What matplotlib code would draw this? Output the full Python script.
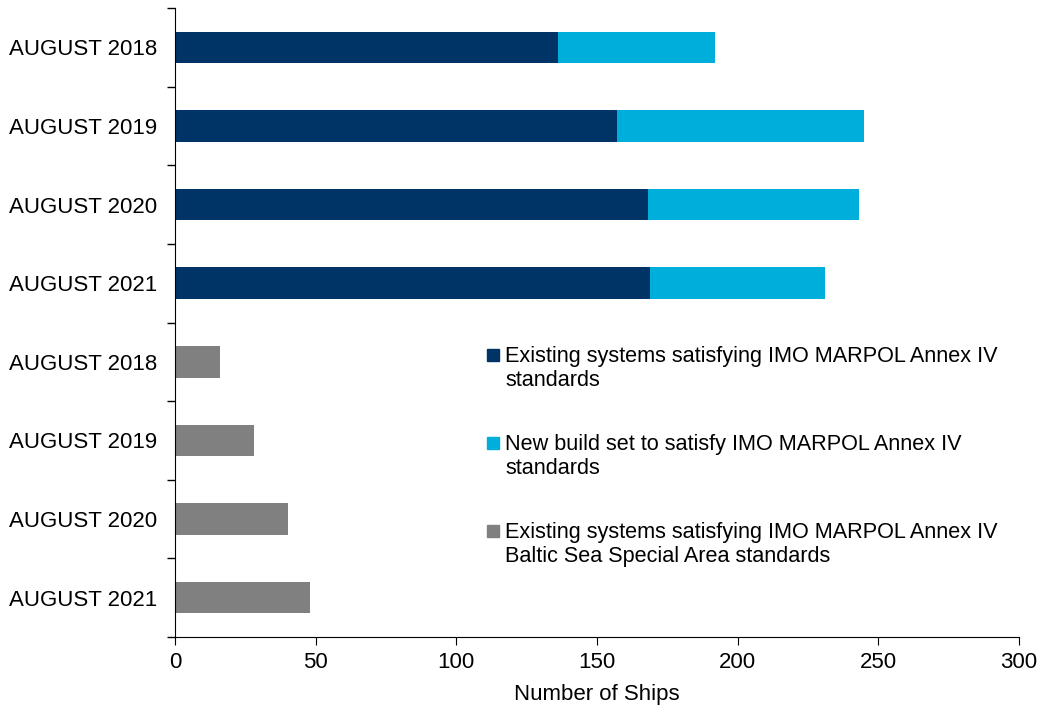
import matplotlib
matplotlib.use("Agg")
import matplotlib.pyplot as plt

plt.rcParams['font.family'] = ['Liberation Sans', 'DejaVu Sans']

# DATA
years = ["AUGUST 2018", "AUGUST 2019", "AUGUST 2020", "AUGUST 2021"]
existing = [136, 157, 168, 169]
new_build = [56, 88, 75, 62]
baltic = [16, 28, 40, 48]

labels = years + years
dark = "#003366"
light = "#00AEDB"
grey = "#808080"

fig = plt.figure(figsize=(10.45, 7.06), dpi=100)
ax = fig.add_axes([0.1675, 0.0977, 0.8075, 0.891])

pos_top = list(range(7, 3, -1))     # 7,6,5,4
pos_bot = list(range(3, -1, -1))    # 3,2,1,0
h = 0.4

ax.barh(pos_top, existing, height=h, color=dark)
ax.barh(pos_top, new_build, left=existing, height=h, color=light)
ax.barh(pos_bot, baltic, height=h, color=grey)

ax.set_ylim(-0.5, 7.5)
ax.set_xlim(0, 300)
ax.set_yticks(pos_top + pos_bot)
ax.set_yticklabels(labels, fontsize=16)
ax.set_yticks([i + 0.5 for i in range(-1, 8)], minor=True)
ax.tick_params(axis='y', which='major', length=0, pad=13)
ax.tick_params(axis='y', which='minor', length=6, width=1, direction='out')
ax.set_xticks(range(0, 301, 50))
ax.tick_params(axis='x', labelsize=16, length=6, direction='out', pad=5)
ax.set_xlabel("Number of Ships", fontsize=16, labelpad=8)

for s in ["top", "right"]:
    ax.spines[s].set_visible(False)

# LEGEND (drawn by hand so the square sits on the first line)
leg_colors = [dark, light, grey]
leg_labels = ["Existing systems satisfying IMO MARPOL Annex IV\nstandards",
              "New build set to satisfy IMO MARPOL Annex IV\nstandards",
              "Existing systems satisfying IMO MARPOL Annex IV\nBaltic Sea Special Area standards"]
y0 = (637 - 355) / 629
dy = 88 / 629
for i, (c, t) in enumerate(zip(leg_colors, leg_labels)):
    y = y0 - i * dy
    ax.plot([0.377], [y], marker='s', markersize=8, color=c,
            transform=ax.transAxes, clip_on=False)
    ax.text(0.391, y + 9 / 629, t, transform=ax.transAxes, fontsize=15.6,
            va='top', ha='left', linespacing=1.2)

fig.savefig("out.png", dpi=100)
